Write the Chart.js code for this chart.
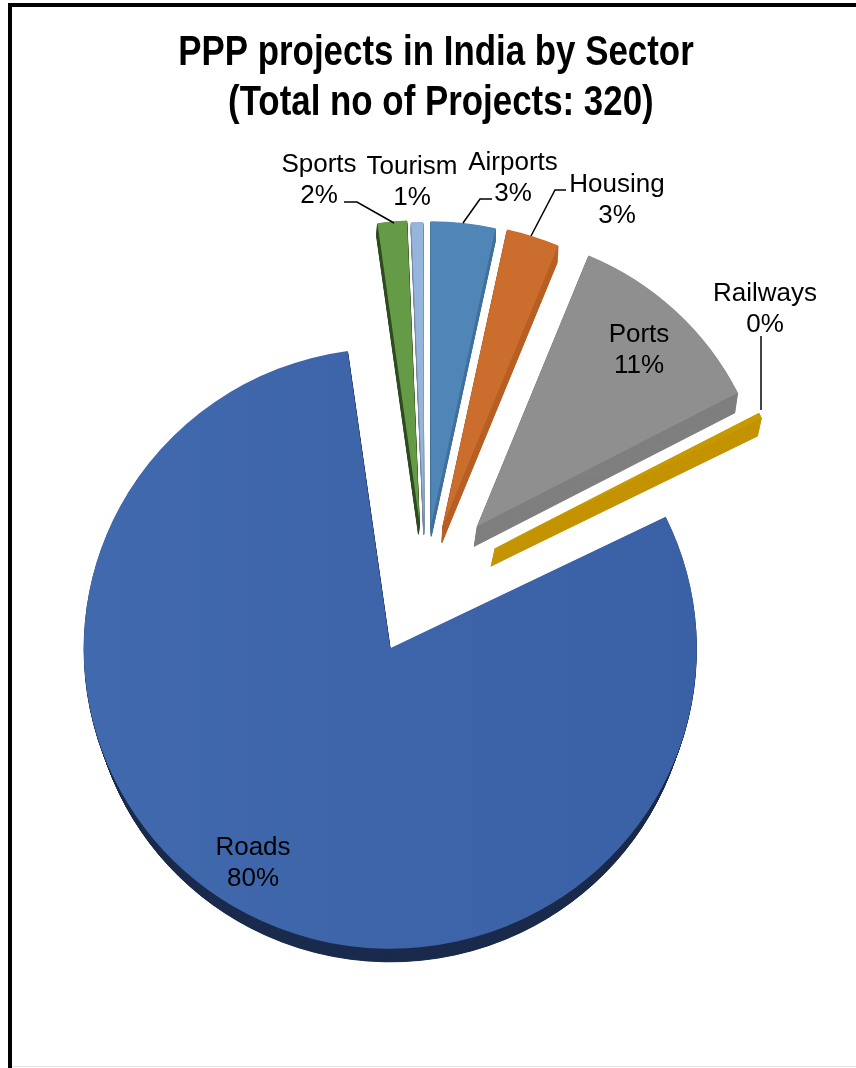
<!DOCTYPE html>
<html lang="en">
<head>
    <meta charset="UTF-8">
    <title>PPP projects in India by Sector</title>
    <script src="https://cdn.jsdelivr.net/npm/chart.js"></script>
    <style>
        html, body {
            margin: 0;
            padding: 0;
            background: #fff;
            overflow: hidden;
        }
        body {
            position: relative;
            width: 856px;
            height: 1068px;
        }
        canvas {
            position: absolute;
            left: 0;
            top: 0;
        }
        .frame {
            position: absolute;
            left: 8px;
            top: 3px;
            width: 900px;
            height: 1100px;
            border-left: 4px solid #000;
            border-top: 4px solid #000;
        }
        .footline {
            position: absolute;
            left: 12px;
            right: 0;
            top: 1066px;
            height: 1px;
            background: #e4e4e4;
        }
    </style>
</head>
<body>
    <canvas id="sectorChart" width="872" height="1068"></canvas>
    <div class="frame"></div>
    <div class="footline"></div>

    <script>
        const titleLines = ['PPP projects in India by Sector', ' (Total no of Projects: 320)'];
        const sectors = ['Roads', 'Sports', 'Tourism', 'Airports', 'Housing', 'Ports', 'Railways'];
        const projects = [256, 5, 2, 11, 9, 36, 1];

        const faceColors = ['#3d64aa', '#659b46', '#95b5dc', '#5085b8', '#cb6d2c', '#8f8f8f', '#c89a02'];
        const wallColors = ['#1a2b4d', '#2f4b20', '#74879e', '#41709c', '#b85f24', '#7f7f7f', '#c49300'];

        // exploded pie: how far each slice moves out, its radius and vertical squash
        const explode = [74, 61, 58, 59, 60, 77, 78];
        const radii = [306.5, 302, 303, 303, 303, 293, 297];
        const squash = [0.98, 1, 1, 1, 1, 1, 1];

        // extrusion of each slice, the wall narrows by wallShrink towards its foot
        const depthX = [0, -1, 0, 0, -1, -3, -4];
        const depthY = [20, 12, 10, 12, 17, 20, 18];
        const wallShrink = [7, 0, 0, 0, 0, 0, 0];

        // label centres, one entry per sector
        const labelX = [253, 319, 412, 513, 617, 639, 765];
        const labelY = [848, 165, 167, 163, 185, 335, 294];
        const labelGap = 31;

        const leaders = [
            { color: '#000', width: 1.5, points: [[344, 202], [357, 202], [394, 223]] },
            { color: '#000', width: 1.5, points: [[492, 199], [480, 199], [463, 223]] },
            { color: '#000', width: 1.5, points: [[566, 190], [555, 190], [531, 236]] },
            { color: '#444', width: 2, points: [[761, 336], [761, 410]] }
        ];

        const total = projects.reduce((a, b) => a + b, 0);

        const ctx = document.getElementById('sectorChart').getContext('2d');

        const roadsFill = ctx.createLinearGradient(84, 0, 698, 0);
        roadsFill.addColorStop(0, '#4169ae');
        roadsFill.addColorStop(1, '#3a60a5');
        faceColors[0] = roadsFill;

        const explodedPie = {
            id: 'explodedPie',
            afterDatasetsUpdate(chart) {
                chart.getDatasetMeta(0).data.forEach((arc, i) => {
                    const mid = (arc.startAngle + arc.endAngle) / 2;
                    arc.x += Math.cos(mid) * explode[i];
                    arc.y += Math.sin(mid) * explode[i];
                    arc.outerRadius = radii[i];

                    const drawFlat = arc.draw;
                    arc.draw = function (c) {
                        c.save();
                        c.translate(0, this.y);
                        c.scale(1, squash[i]);
                        c.translate(0, -this.y);
                        drawFlat.call(this, c);
                        c.restore();
                    };
                });
            },
            beforeDatasetsDraw(chart) {
                // side walls: repeat each slice downwards in its darker colour
                const c = chart.ctx;
                chart.getDatasetMeta(0).data.forEach((arc, i) => {
                    const faceOptions = arc.options;
                    arc.options = Object.assign({}, faceOptions, {
                        backgroundColor: wallColors[i],
                        borderColor: wallColors[i],
                        borderWidth: 1
                    });
                    for (let k = depthY[i]; k > 0; k--) {
                        arc.outerRadius = radii[i] - wallShrink[i] * k / depthY[i];
                        c.save();
                        c.translate(depthX[i] * k / depthY[i], k);
                        arc.draw(c);
                        c.restore();
                    }
                    arc.outerRadius = radii[i];
                    arc.options = faceOptions;
                });
            },
            afterDatasetsDraw(chart) {
                const c = chart.ctx;
                c.save();
                leaders.forEach(line => {
                    c.beginPath();
                    c.strokeStyle = line.color;
                    c.lineWidth = line.width;
                    line.points.forEach((p, n) => n ? c.lineTo(p[0], p[1]) : c.moveTo(p[0], p[1]));
                    c.stroke();
                });
                c.fillStyle = '#000';
                c.font = "26px 'Liberation Sans', Arial, sans-serif";
                c.textAlign = 'center';
                c.textBaseline = 'middle';
                sectors.forEach((name, i) => {
                    const pct = Math.round(projects[i] / total * 100) + '%';
                    c.fillText(name, labelX[i], labelY[i]);
                    c.fillText(pct, labelX[i], labelY[i] + labelGap);
                });

                // heading, set in a condensed width
                c.font = "bold 43px 'Liberation Sans', Arial, sans-serif";
                c.textBaseline = 'alphabetic';
                c.translate(436, 0);
                c.scale(0.811, 1);
                c.fillText(titleLines[0], 0, 65);
                c.fillText(titleLines[1], 0, 115);
                c.restore();
            }
        };

        new Chart(ctx, {
            type: 'pie',
            data: {
                labels: sectors,
                datasets: [{
                    data: projects,
                    backgroundColor: faceColors,
                    borderWidth: 0,
                    clip: false
                }]
            },
            options: {
                responsive: false,
                animation: false,
                rotation: 64,
                radius: 306,
                layout: {
                    padding: { top: 127, left: 0, right: 22, bottom: 29 }
                },
                plugins: {
                    legend: { display: false },
                    tooltip: { enabled: false }
                }
            },
            plugins: [explodedPie]
        });
    </script>
</body>
</html>
